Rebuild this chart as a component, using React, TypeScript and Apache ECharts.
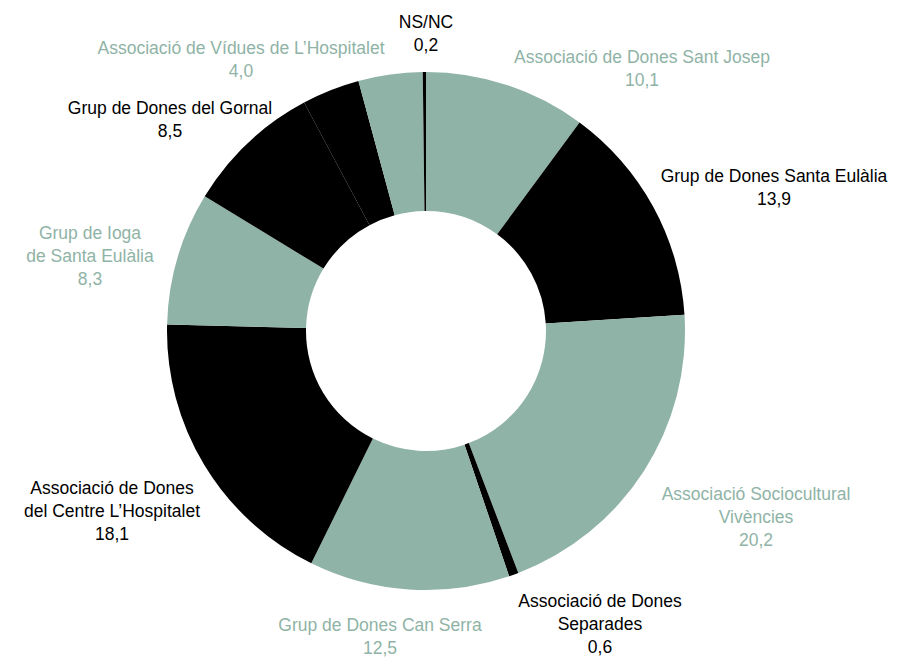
import React, { useEffect, useRef } from "react";
import * as echarts from "echarts";

const categories = [
  "Associació de Dones Sant Josep",
  "Grup de Dones Santa Eulàlia",
  "Associació Sociocultural\nVivències",
  "Associació de Dones\nSeparades",
  "Grup de Dones Can Serra",
  "Associació de Dones\ndel Centre L’Hospitalet",
  "Grup de Ioga\nde Santa Eulàlia",
  "Grup de Dones del Gornal",
  "",
  "Associació de Vídues de L’Hospitalet",
  "NS/NC",
];
const values = [10.1, 13.9, 20.2, 0.6, 12.5, 18.1, 8.3, 8.5, 3.6, 4.0, 0.2];

const GREEN = "#8fb3a6";
const BLACK = "#000000";
const sliceColors = [GREEN, BLACK, GREEN, BLACK, GREEN, BLACK, GREEN, BLACK, BLACK, GREEN, BLACK];
// label centres (px)
const labelPos: [number, number][] = [
  [642, 68],
  [774, 187],
  [756, 517],
  [600, 624],
  [380, 636],
  [112, 511],
  [90, 256],
  [170, 119],
  [0, 0],
  [241, 59],
  [426, 33],
];

export default function App() {
  const ref = useRef<HTMLDivElement>(null);
  useEffect(() => {
    document.body.style.margin = "0";
    const chart = echarts.init(ref.current!, null, { renderer: "svg" });
    chart.setOption({
      animation: false,
      backgroundColor: "#ffffff",
      series: [
        {
          type: "pie",
          center: [426, 331],
          radius: [120, 259],
          startAngle: 90,
          clockwise: true,
          avoidLabelOverlap: false,
          labelLine: { show: false },
          data: categories.map((name, i) => ({
            name,
            value: values[i],
            itemStyle: { color: sliceColors[i] },
            label: {
              show: name !== "",
              color: sliceColors[i],
            },
          })),
          label: {
            position: "outside",
            fontFamily: "Liberation Sans, Arial, sans-serif",
            fontSize: 17.5,
            lineHeight: 23,
            align: "center",
            formatter: (p: any) =>
              `${p.name}\n${Number(p.value).toFixed(1).replace(".", ",")}`,
          },
          labelLayout: (params: any) => {
            const [x, y] = labelPos[params.dataIndex];
            return { x, y, align: "center", verticalAlign: "middle", hideOverlap: false };
          },
        },
      ],
    });
    return () => chart.dispose();
  }, []);
  return <div ref={ref} style={{ width: 901, height: 657 }} />;
}
